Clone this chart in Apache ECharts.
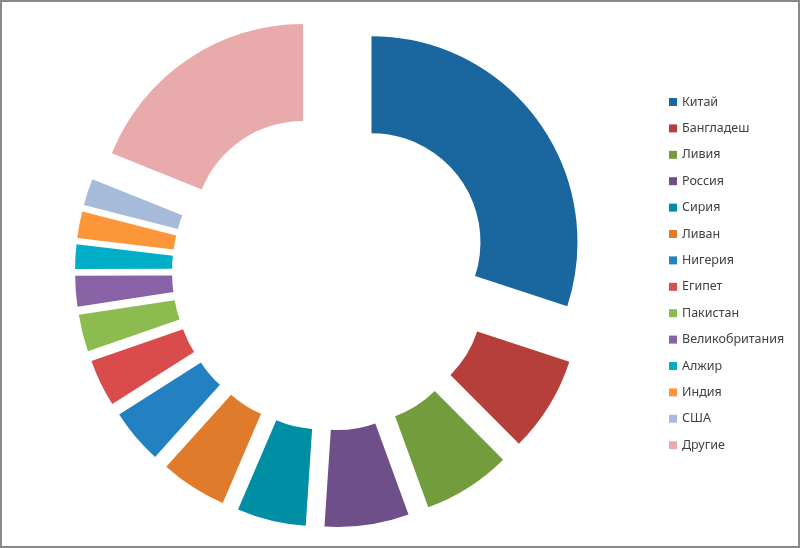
<!DOCTYPE html>
<html>
<head>
<meta charset="utf-8">
<script src="https://cdn.jsdelivr.net/npm/echarts@6/dist/echarts.min.js"></script>
<style>
html, body { margin: 0; padding: 0; background: #fff; }
#frame { position: absolute; left: 0; top: 0; width: 796px; height: 544px; border: 2px solid #8a8a8a; }
#main { position: absolute; left: -2px; top: -2px; width: 800px; height: 548px; }
</style>
</head>
<body>
<div id="frame"><div id="main"></div></div>
<script>
// страны и доли (в %)
var countries = ['Китай', 'Бангладеш', 'Ливия', 'Россия', 'Сирия', 'Ливан', 'Нигерия',
    'Египет', 'Пакистан', 'Великобритания', 'Алжир', 'Индия', 'США', 'Другие'];
var shares = [30.0, 7.5, 6.9, 6.6, 5.4, 5.2, 4.3, 3.7, 2.9, 2.4, 1.9, 2.1, 2.1, 18.9];
var colors = ['#1a67a0', '#b63e3b', '#739c3d', '#6f4f8a', '#008ea4', '#e07b2c', '#2381c1',
    '#da4c4b', '#8cbb4f', '#8962a5', '#00aec8', '#fd9639', '#a6bbd9', '#e8aaaa'];

var myChart = echarts.init(document.getElementById('main'));

var pieData = countries.map(function (name, i) {
    return {
        name: name,
        value: shares[i],
        selected: true,
        itemStyle: { color: colors[i] }
    };
});

var option = {
    backgroundColor: 'transparent',
    animation: false,
    legend: {
        orient: 'vertical',
        left: 669,
        top: 94,
        padding: 0,
        icon: 'rect',
        itemWidth: 8,
        itemHeight: 8,
        itemGap: 10.4,
        selectedMode: false,
        textStyle: {
            color: '#404040',
            fontSize: 12.5,
            fontFamily: 'Noto Sans',
            lineHeight: 16
        },
        data: countries
    },
    series: [
        {
            type: 'pie',
            center: [331, 271.5],
            radius: [109, 206],
            startAngle: 90,
            clockwise: true,
            selectedMode: 'multiple',
            selectedOffset: 50,
            label: { show: false },
            labelLine: { show: false },
            emphasis: { disabled: true },
            select: { itemStyle: { borderWidth: 0 } },
            itemStyle: { borderWidth: 0 },
            data: pieData
        }
    ]
};
myChart.setOption(option);
</script>
</body>
</html>
